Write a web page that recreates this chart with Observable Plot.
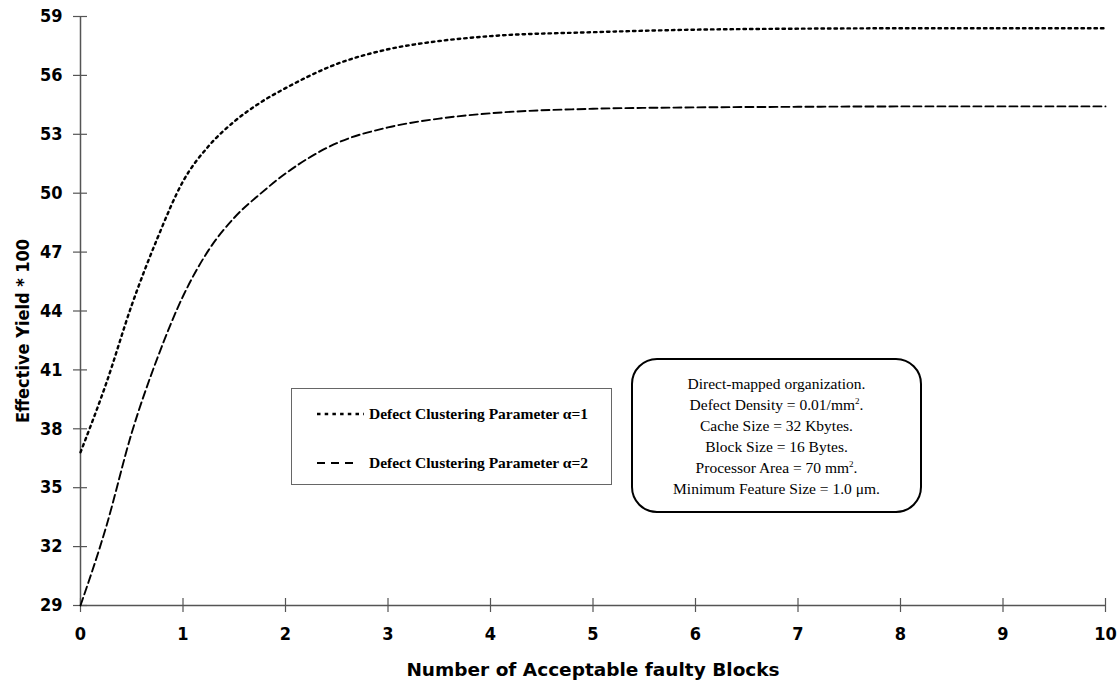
<!DOCTYPE html>
<html>
<head>
<meta charset="utf-8">
<script src="https://cdn.jsdelivr.net/npm/d3@7"></script>
<script src="https://cdn.jsdelivr.net/npm/@observablehq/plot@0.6"></script>
<style>
  html, body { margin: 0; padding: 0; background: #fff; }
  #wrap { position: relative; width: 1119px; height: 681px; }
  #legend { position: absolute; left: 291px; top: 388px; width: 319px; height: 95px; border: 1px solid #666; box-sizing: content-box; }
  .lrow { position: absolute; left: 0; height: 20px; display: flex; align-items: center; font-family: "Liberation Serif", "Times New Roman", serif; font-weight: bold; font-size: 15.5px; color: #000; white-space: nowrap; }
  .lrow svg { margin-left: 25px; margin-right: 5px; }
  #note { position: absolute; left: 631px; top: 358px; width: 287px; height: 151px; border: 2px solid #000; border-radius: 26px; box-sizing: content-box; font-family: "Liberation Serif", "Times New Roman", serif; font-size: 15.5px; color: #000; text-align: center; line-height: 21px; }
  #note .inner { position: absolute; left: 0; right: 0; top: 13px; }
  #note sup { font-size: 9px; vertical-align: 6px; line-height: 0; }
</style>
</head>
<body>
<div id="wrap"></div>
<script>
// Data
const blocks = [0, 0.25, 0.5, 0.75, 1, 1.25, 1.5, 1.75, 2, 2.5, 3, 3.5, 4, 5, 6, 7, 8, 9, 10];
const yieldAlpha1 = [36.8, 40.3, 44.3, 47.7, 50.6, 52.4, 53.65, 54.6, 55.35, 56.58, 57.33, 57.75, 58.0, 58.2, 58.33, 58.38, 58.4, 58.4, 58.4];
const yieldAlpha2 = [29.0, 33.0, 37.8, 41.6, 44.75, 47.1, 48.75, 49.95, 51.0, 52.55, 53.35, 53.8, 54.07, 54.3, 54.37, 54.4, 54.42, 54.42, 54.42];
const seriesNames = ["Defect Clustering Parameter \u03b1=1", "Defect Clustering Parameter \u03b1=2"];
const xTicks = [0, 1, 2, 3, 4, 5, 6, 7, 8, 9, 10];
const yTicks = [29, 32, 35, 38, 41, 44, 47, 50, 53, 56, 59];
const xTitle = "Number of Acceptable faulty Blocks";
const yTitle = "Effective Yield * 100";
const noteLines = [
  "Direct-mapped organization.",
  "Defect Density = 0.01/mm<sup>2</sup>.",
  "Cache Size = 32 Kbytes.",
  "Block Size = 16 Bytes.",
  "Processor Area = 70 mm<sup>2</sup>.",
  "Minimum Feature Size = 1.0 \u03bcm."
];

const dash1 = "2.5,4";
const dash2 = "8,4";

const rows = [];
blocks.forEach((b, i) => rows.push({x: b, y: yieldAlpha1[i], s: seriesNames[0]}));
blocks.forEach((b, i) => rows.push({x: b, y: yieldAlpha2[i], s: seriesNames[1]}));

const plot = Plot.plot({
  width: 1119,
  height: 681,
  marginLeft: 80,
  marginRight: 14,
  marginTop: 16,
  marginBottom: 76,
  style: {fontFamily: "'DejaVu Sans Condensed', 'DejaVu Sans', sans-serif", fontSize: "18px", fontWeight: "bold", color: "#000", background: "#fff"},
  x: {domain: [0, 10]},
  y: {domain: [29, 59]},
  marks: [
    Plot.ruleX([0], {y1: 29, y2: 59, stroke: "#555", strokeWidth: 1.5}),
    Plot.ruleY([29], {x1: 0, x2: 10, stroke: "#555", strokeWidth: 1.5}),
    Plot.ruleY(yTicks, {y: d => d, x1: 0, x2: 0, insetLeft: -7, insetRight: -7, stroke: "#555", strokeWidth: 1.2}),
    Plot.ruleX(xTicks, {x: d => d, y1: 29, y2: 29, insetTop: -7, insetBottom: -7, stroke: "#555", strokeWidth: 1.2}),
    Plot.axisY(yTicks, {tickSize: 0, tickPadding: 18, label: null}),
    Plot.axisX(xTicks, {tickSize: 0, tickPadding: 22, label: null}),
    Plot.line(rows.filter(d => d.s === seriesNames[0]), {x: "x", y: "y", curve: "monotone-x", stroke: "#000", strokeWidth: 2.4, strokeDasharray: dash1}),
    Plot.line(rows.filter(d => d.s === seriesNames[1]), {x: "x", y: "y", curve: "monotone-x", stroke: "#000", strokeWidth: 1.9, strokeDasharray: dash2}),
    Plot.text([yTitle], {text: d => d, frameAnchor: "left", rotate: -90, dx: -57, dy: 20, fontSize: 18, fontWeight: "bold", fill: "#000", textAnchor: "middle", lineAnchor: "middle"}),
    Plot.axisX({ticks: [], label: xTitle, labelAnchor: "center", labelArrow: "none", labelOffset: 70, tickSize: 0, fontSize: 18.5, fontFamily: "'DejaVu Sans', sans-serif"})
  ]
});

const wrap = document.getElementById("wrap");
wrap.appendChild(plot);

// Legend box
const legend = document.createElement("div");
legend.id = "legend";
const rowTops = [15, 64];
[dash1, dash2].forEach((da, i) => {
  const r = document.createElement("div");
  r.className = "lrow";
  r.style.top = rowTops[i] + "px";
  r.innerHTML = `<svg width="47" height="6"><line x1="0" x2="${i === 0 ? 47 : 42}" y1="3" y2="3" stroke="#000" stroke-width="${i === 0 ? 2.5 : 2}" stroke-dasharray="${i === 0 ? '3.5,4.2' : '8,6'}"/></svg><span>${seriesNames[i]}</span>`;
  legend.appendChild(r);
});
wrap.appendChild(legend);

// Note box
const note = document.createElement("div");
note.id = "note";
note.innerHTML = `<div class="inner">${noteLines.join("<br>")}</div>`;
wrap.appendChild(note);
</script>
</body>
</html>
